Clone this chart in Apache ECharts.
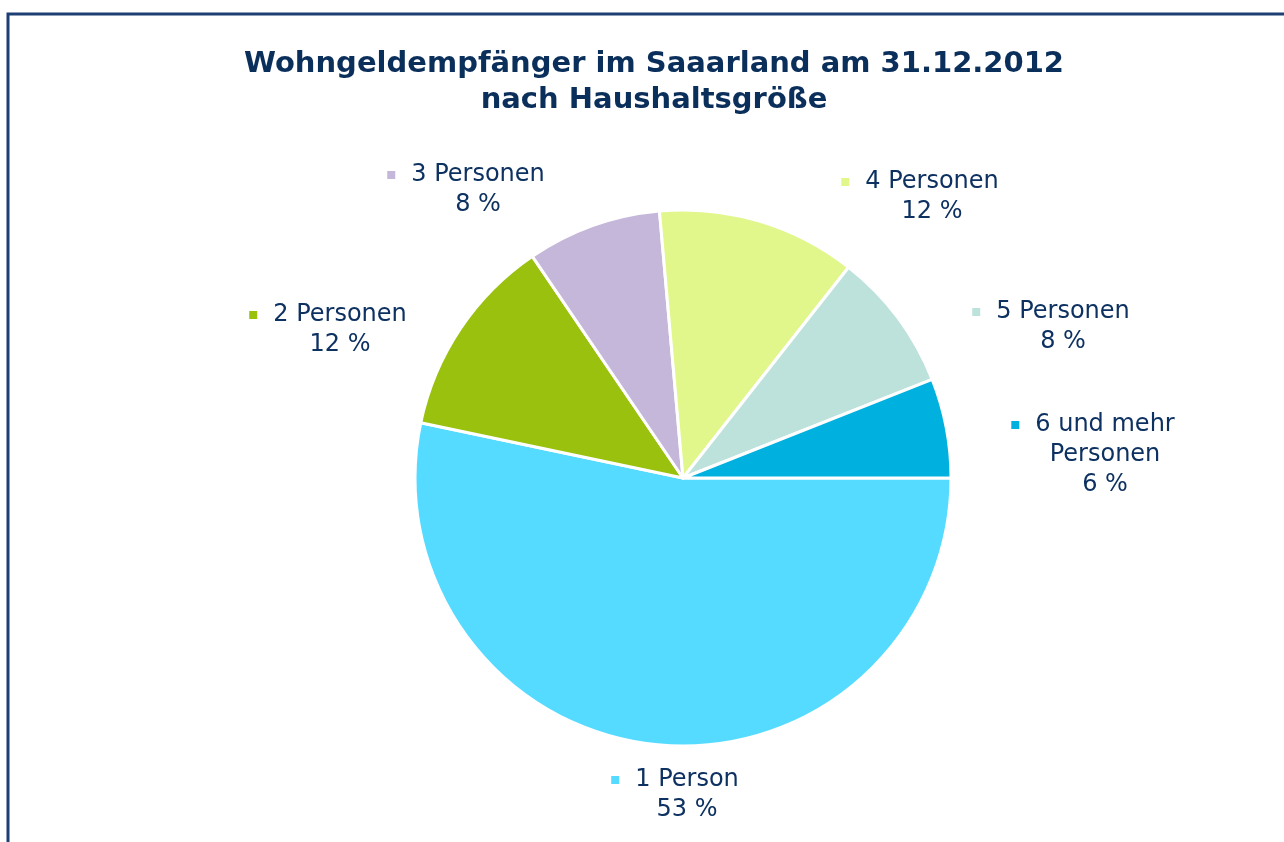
<!DOCTYPE html>
<html>
<head>
<meta charset="utf-8">
<title>Wohngeldempfänger im Saaarland</title>
<script src="https://cdn.jsdelivr.net/npm/echarts@6/dist/echarts.min.js"></script>
<style>
  html, body { margin: 0; padding: 0; background: #fff; }
  #chart { width: 1284px; height: 842px; }
</style>
</head>
<body>
<div id="chart"></div>
<script>
// Anteile in Prozent, gelesen aus dem Kreisdiagramm
const categories = ['1 Person', '2 Personen', '3 Personen', '4 Personen', '5 Personen', '6 und mehr Personen']
const shares = [53.3, 12.2, 8.1, 12.0, 8.4, 6.0]
const colors = ['#55DBFF', '#9AC10E', '#C5B7D9', '#E1F78C', '#BDE2DC', '#00B0DE']

// label centres relative to the pie centre (Excel placed them by hand)
const labelOffsets = [[4, 317], [-343, -148], [-205, -288], [249, -281], [380, -151], [422, -23]]

const textColor = '#0D3160'
const font = '"DejaVu Sans", Verdana, sans-serif'

const chart = echarts.init(document.getElementById('chart'))

const rich = {
  g: { width: 16 },
  s: { width: 24 },
  t: { color: textColor, fontSize: 24, fontFamily: font, lineHeight: 30 }
}
colors.forEach((c, i) => {
  rich['m' + i] = { width: 8, height: 8, backgroundColor: c }
})

const option = {
  animation: false,
  title: {
    text: 'Wohngeldempfänger im Saaarland am 31.12.2012\nnach Haushaltsgröße',
    left: 654,
    top: 46,
    padding: 0,
    textAlign: 'center',
    textStyle: {
      color: '#0B2F5B',
      fontSize: 29,
      fontWeight: 'bold',
      fontFamily: font,
      lineHeight: 36
    }
  },
  graphic: [
    {
      type: 'rect',
      shape: { x: 8, y: 14, width: 1300, height: 860 },
      style: { fill: 'none', stroke: '#1E3F73', lineWidth: 3 },
      silent: true
    }
  ],
  series: [
    {
      type: 'pie',
      center: [683, 478],
      radius: 268,
      startAngle: 0,
      clockwise: true,
      data: categories.map((name, i) => ({
        name: name,
        value: shares[i],
        itemStyle: { color: colors[i] }
      })),
      itemStyle: {
        borderColor: '#fff',
        borderWidth: 3
      },
      label: {
        show: true,
        position: 'outside',
        align: 'center',
        rich: rich,
        formatter: (p) => {
          // long names wrap like in the original: "6 und mehr" / "Personen"
          let first = p.name
          let extra = ''
          if (p.name.length > 12) {
            first = p.name.replace(' Personen', '')
            extra = '\n{t|Personen}'
          }
          return '{m' + p.dataIndex + '|}{g|}{t|' + first + '}{s|}' + extra +
            '\n{t|' + Math.round(p.percent) + ' %}'
        }
      },
      labelLine: { show: false },
      labelLayout: (params) => {
        const off = labelOffsets[params.dataIndex]
        return {
          x: 683 + off[0],
          y: 478 + off[1],
          align: 'center',
          verticalAlign: 'middle'
        }
      }
    }
  ]
}

chart.setOption(option)

window.addEventListener('resize', () => chart.resize())
</script>
</body>
</html>
